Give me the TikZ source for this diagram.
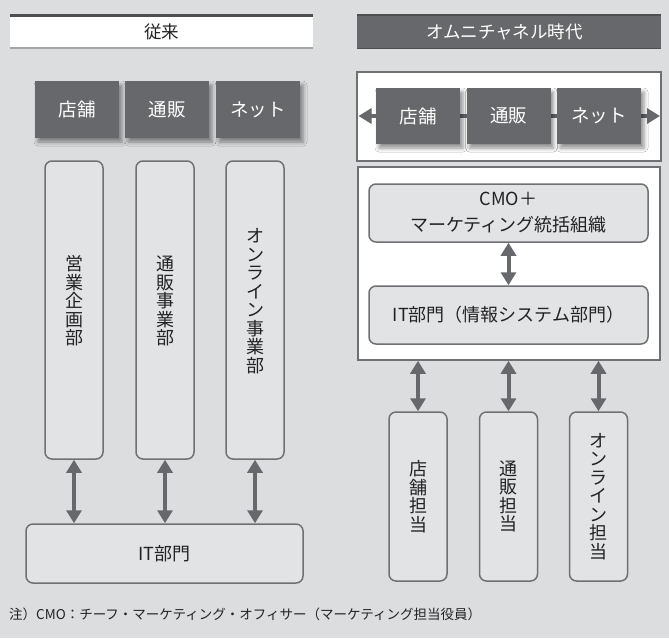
\documentclass[tikz,border=0pt]{standalone}
\usepackage{fontspec}
\setmainfont{Noto Sans CJK JP}
\usetikzlibrary{arrows.meta,shadows.blur}
\definecolor{bg}{HTML}{DCDDDF}
\definecolor{boxfill}{HTML}{E2E3E5}
\definecolor{edge}{HTML}{6F7073}
\definecolor{dark}{HTML}{67686B}
\definecolor{darker}{HTML}{4E4F52}
\definecolor{lightline}{HTML}{A4A5A8}
\definecolor{txt}{HTML}{222222}
\tikzset{
  lhead/.style={fill=white, minimum width=303pt, minimum height=35pt, inner sep=0pt, text=txt, font=\fontsize{17.5}{20}\selectfont},
  rhead/.style={fill=dark, minimum width=304pt, minimum height=35pt, inner sep=0pt, text=white, font=\fontsize{17.5}{20}\selectfont},
  chan/.style={fill=dark, text=white, minimum width=84pt, minimum height=57pt, inner sep=0pt, font=\fontsize{18.5}{20}\selectfont,
    blur shadow={shadow xshift=3pt, shadow yshift=-4pt, shadow blur radius=4pt, shadow opacity=45}},
  wbox/.style={fill=white, draw=edge, line width=1.5pt, inner sep=0pt},
  rbox/.style={fill=boxfill, draw=edge, line width=1.5pt, rounded corners=7pt, inner sep=0pt, text=txt},
  vtext/.style={align=center, text=txt, inner sep=0pt, font=\fontsize{18}{18.5}\selectfont},
  htext/.style={align=center, text=txt, font=\fontsize{18}{26}\selectfont},
  dbl/.style={draw=dark, line width=4pt, {Triangle[length=13pt,width=15pt]}-{Triangle[length=13pt,width=15pt]}},
}
\begin{document}
\begin{tikzpicture}[x=1pt,y=-1pt]
\fill[bg] (0,0) rectangle (669,638);
\useasboundingbox (0,0) rectangle (669,638);

% headers
\node[lhead] (h1) at (161.5,31.5) {従来};
\draw[darker, line width=3pt] ([yshift=-1.5pt]h1.north west) -- ([yshift=-1.5pt]h1.north east);
\draw[lightline, line width=2pt] ([yshift=1pt]h1.south west) -- ([yshift=1pt]h1.south east);
\node[rhead, text width=304pt, align=center] (h2) at (509,31.5) {\hspace*{-9pt}オムニチャネル時代};
\draw[darker, line width=2pt] ([yshift=-1pt]h2.north west) -- ([yshift=-1pt]h2.north east);
\draw[darker, line width=1pt] ([yshift=0.5pt]h2.south west) -- ([yshift=0.5pt]h2.south east);

% left side
\node[chan] (lc1) at (77,109.5) {店舗};
\node[chan] (lc2) at (167,109.5) {通販};
\node[chan] (lc3) at (258,109.5) {ネット};

\node[rbox, minimum width=58pt, minimum height=298pt] (lb1) at (74,310) {};
\node[rbox, minimum width=58pt, minimum height=298pt] (lb2) at (165,310) {};
\node[rbox, minimum width=58pt, minimum height=298pt] (lb3) at (255,310) {};
\node[vtext] (lt1) at ([yshift=9pt]lb1.center) {営\\業\\企\\画\\部};
\node[vtext] (lt2) at ([yshift=9pt]lb2.center) {通\\販\\事\\業\\部};
\node[vtext] (lt3) at ([yshift=9pt]lb3.center) {オ\\ン\\ラ\\イ\\ン\\事\\業\\部};

\node[rbox, minimum width=277pt, minimum height=59pt, font=\fontsize{18}{20}\selectfont] (lit) at (164.5,553.5) {IT部門};
\draw[dbl] (lb1.south) -- (lb1.south |- lit.north);
\draw[dbl] (lb2.south) -- (lb2.south |- lit.north);
\draw[dbl] (lb3.south) -- (lb3.south |- lit.north);

% right side
\node[wbox, minimum width=304pt, minimum height=89pt] (rw1) at (509,116.5) {};
\coordinate (al) at (358.5,116);
\coordinate (ar) at (660,116);
\draw[dbl] (al) -- (ar);
\node[chan, minimum height=56pt] (rc1) at (418,116) {店舗};
\node[chan, minimum height=56pt] (rc2) at (508.5,116) {通販};
\node[chan, minimum height=56pt] (rc3) at (599,116) {ネット};

\node[wbox, minimum width=302pt, minimum height=193pt] (rw2) at (509,263.5) {};
\node[rbox, htext, minimum width=279pt, minimum height=58pt] (cmo) at (508.5,213) {CMO＋\\マーケティング統括組織};
\node[rbox, htext, minimum width=279pt, minimum height=58pt] (rit) at (508.5,315) {IT部門（情報システム部門）};
\draw[dbl] (cmo.south) -- (rit.north);

\node[rbox, vtext, minimum width=58pt, minimum height=169pt] (rb1) at (418,496.5) {店\\舗\\担\\当};
\node[rbox, vtext, minimum width=58pt, minimum height=169pt] (rb2) at (508.5,496.5) {通\\販\\担\\当};
\node[rbox, vtext, minimum width=58pt, minimum height=169pt] (rb3) at (598.5,496.5) {オ\\ン\\ラ\\イ\\ン\\担\\当};
\draw[dbl] (rb1.north |- rw2.south) -- (rb1.north);
\draw[dbl] (rb2.north |- rw2.south) -- (rb2.north);
\draw[dbl] (rb3.north |- rw2.south) -- (rb3.north);

% note
\node[anchor=west, inner sep=0pt, text=txt, font=\fontsize{13.5}{16}\selectfont] (note) at (9,614) {注）CMO：チーフ・マーケティング・オフィサー（マーケティング担当役員）};
\end{tikzpicture}
\end{document}
